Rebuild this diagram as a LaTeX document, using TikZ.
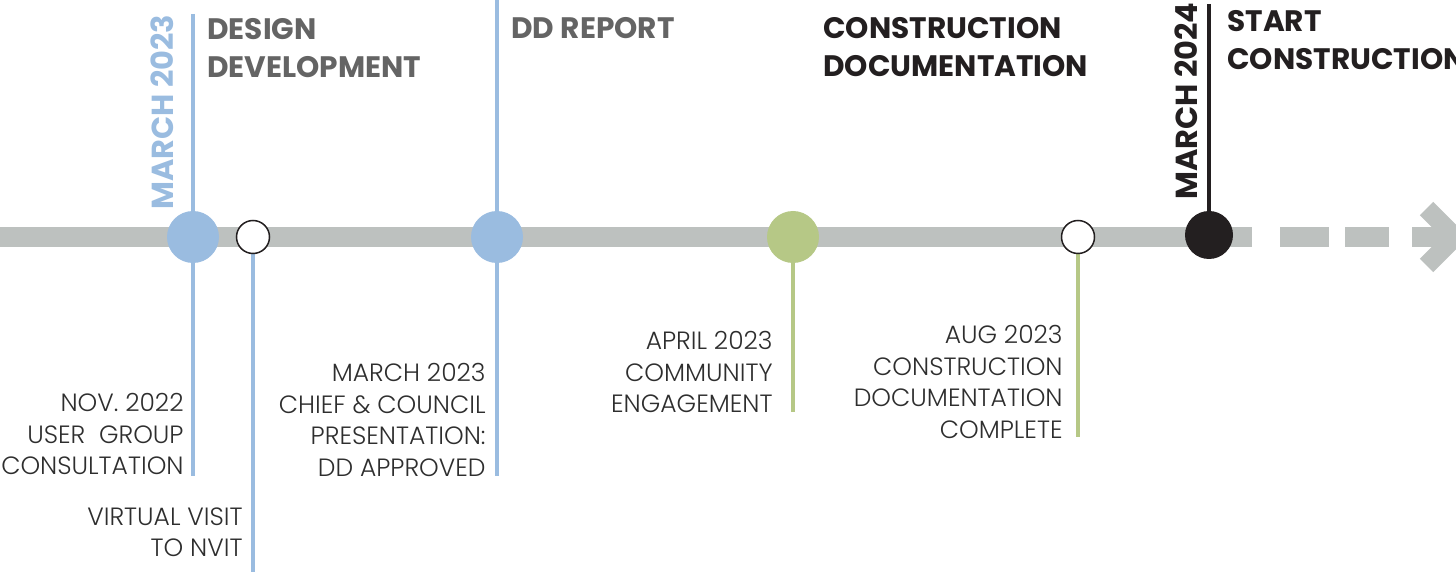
\documentclass[tikz,border=0pt]{standalone}
\usepackage{fontspec}
\setmainfont{Poppins}
\newfontfamily\lightfont{Poppins Light}
\newfontfamily\boldfont{Poppins Bold}
\definecolor{tlblue}{HTML}{9ABCE0}
\definecolor{tlgreen}{HTML}{B6C886}
\definecolor{tlgray}{HTML}{BDC1BF}
\definecolor{hgray}{HTML}{646464}
\definecolor{tlblack}{HTML}{231F20}
\definecolor{ltext}{HTML}{2E2E2E}
\begin{document}
\begin{tikzpicture}[x=0.5pt,y=-0.5pt,
  bar/.style={line width=10pt,tlgray},
  stemblue/.style={line width=2.2pt,tlblue},
  stemgreen/.style={line width=2pt,tlgreen},
  stemblack/.style={line width=2pt,tlblack},
  bigdot/.style={circle,inner sep=0pt,minimum size=26pt},
  smalldot/.style={circle,inner sep=0pt,minimum size=16.5pt,draw=tlblack,line width=0.75pt,fill=white},
  lbl/.style={inner sep=0pt,align=right,anchor=north east,text=ltext,font=\lightfont\fontsize{12.5}{15.75}\selectfont},
  head/.style={inner sep=0pt,align=left,anchor=north west,font=\boldfont\fontsize{14.8}{19}\selectfont},
  vhead/.style={inner sep=0pt,rotate=90,anchor=base west,font=\boldfont\fontsize{15.2}{19}\selectfont}
]
\useasboundingbox (0,0) rectangle (1456,572);
\clip (0,0) rectangle (1456,572);
% coordinates
\coordinate (p1) at (193,237);
\coordinate (p2) at (253,237);
\coordinate (p3) at (497,237);
\coordinate (p4) at (793,237);
\coordinate (p5) at (1078,237);
\coordinate (p6) at (1209,235);
\coordinate (t1) at (193,14);
\coordinate (b1) at (193,476);
\coordinate (b2) at (253,572);
\coordinate (t3) at (497,0);
\coordinate (b3) at (497,476);
\coordinate (b4) at (793,412);
\coordinate (b5) at (1078,437);
\coordinate (t6) at (1209,4);
\coordinate (bar0) at (0,237);
\coordinate (bar1) at (1252,237);
\coordinate (d1a) at (1280,237);
\coordinate (d1b) at (1329,237);
\coordinate (d2a) at (1345,237);
\coordinate (d2b) at (1389,237);
\coordinate (a0) at (1412,237);
\coordinate (a1) at (1452,237);
\coordinate (ca) at (1426.5,208.5);
\coordinate (ct) at (1455,237);
\coordinate (cb) at (1426.5,265.5);
% main bar
\draw[bar] (bar0) -- (bar1);
\draw[bar] (d1a) -- (d1b);
\draw[bar] (d2a) -- (d2b);
\draw[bar] (a0) -- (a1);
\draw[line width=9.5pt,tlgray,line join=miter] (ca) -- (ct) -- (cb);
% stems
\draw[stemblue] (t1) -- (b1);
\draw[stemblue] (p2) -- (b2);
\draw[stemblue] (t3) -- (b3);
\draw[stemgreen] (p4) -- (b4);
\draw[stemgreen] (p5) -- (b5);
\draw[stemblack] (t6) -- (p6);
% dots
\node[bigdot,fill=tlblue] (c1) at (p1) {};
\node[smalldot] (c2) at (p2) {};
\node[bigdot,fill=tlblue] (c3) at (p3) {};
\node[bigdot,fill=tlgreen] (c4) at (p4) {};
\node[smalldot] (c5) at (p5) {};
\node[bigdot,fill=tlblack,minimum size=24pt] (c6) at (p6) {};
% headings
\node[vhead,text=tlblue] (v1) at (173,210) {MARCH 2023};
\node[vhead,text=tlblack] (v2) at (1197,200) {MARCH 2024};
\node[head,text=hgray] (h1) at (207,18) {DESIGN\\DEVELOPMENT};
\node[head,text=hgray] (h2) at (511,17) {DD REPORT};
\node[head,text=tlblack] (h3) at (823,17) {CONSTRUCTION\\DOCUMENTATION};
\node[head,text=tlblack] (h4) at (1227,10) {START\\CONSTRUCTION};
% labels
\node[lbl] (l1) at (184,393) {NOV. 2022\\USER\ \ GROUP\\CONSULTATION};
\node[lbl] (l2) at (243,507) {VIRTUAL VISIT\\TO NVIT};
\node[lbl] (l3) at (486,363) {MARCH 2023\\CHIEF \& COUNCIL\\PRESENTATION:\\DD APPROVED};
\node[lbl] (l4) at (773,331) {APRIL 2023\\COMMUNITY\\ENGAGEMENT};
\node[lbl] (l5) at (1063,325) {AUG 2023\\CONSTRUCTION\\DOCUMENTATION\\COMPLETE};
\end{tikzpicture}
\end{document}
